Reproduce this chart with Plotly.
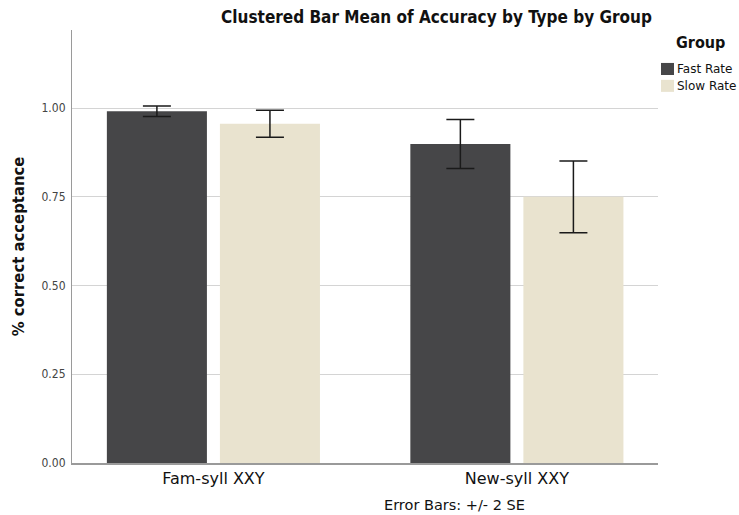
import plotly.graph_objects as go

# Mean accuracy per item type, split by presentation rate
types = ["Fam-syll XXY", "New-syll XXY"]
groups = ["Fast Rate", "Slow Rate"]
fast_mean = [0.991, 0.899]
slow_mean = [0.956, 0.750]
fast_err = [0.015, 0.069]   # +/- 2 SE
slow_err = [0.038, 0.101]   # +/- 2 SE
y_ticks = [0.00, 0.25, 0.50, 0.75, 1.00]

DARK = "#464648"
BEIGE = "#e9e3cf"
BOLD_FONT = "DejaVu Sans Condensed, DejaVu Sans, sans-serif"
FONT = "DejaVu Sans, sans-serif"

fig = go.Figure()
for name, means, errs, color in [
    (groups[0], fast_mean, fast_err, DARK),
    (groups[1], slow_mean, slow_err, BEIGE),
]:
    fig.add_trace(go.Bar(
        name=name, x=types, y=means, marker=dict(color=color, line=dict(width=0)),
        error_y=dict(type="data", array=errs, visible=True, color="#1a1a1a",
                     thickness=1.5, width=14),
        showlegend=False,
    ))

# Legend drawn as swatches with labels at the right edge
fig.add_annotation(text="<b>Group</b>", xref="paper", yref="paper", x=1.0717, y=0.970,
                   xanchor="center", yanchor="middle", showarrow=False,
                   font=dict(family=BOLD_FONT, size=16, color="#111"))
for i, (name, color) in enumerate([(groups[0], DARK), (groups[1], BEIGE)]):
    yc = 0.910 - i * 0.039
    fig.add_shape(type="rect", xref="paper", yref="paper", x0=1.0051, x1=1.0273,
                  y0=yc - 0.0139, y1=yc + 0.0139, fillcolor=color, line=dict(width=0))
    fig.add_annotation(text=name, xref="paper", yref="paper", x=1.0290, y=yc,
                       xanchor="left", yanchor="middle", showarrow=False,
                       font=dict(family=FONT, size=12, color="#111"))

fig.add_annotation(text="Error Bars: +/- 2 SE", xref="paper", yref="paper",
                   x=0.653, y=-0.097, xanchor="center", yanchor="middle", showarrow=False,
                   font=dict(family=FONT, size=14.5, color="#111"))

fig.update_layout(
    width=739, height=515,
    margin=dict(l=72, r=81, t=30, b=52),
    paper_bgcolor="white", plot_bgcolor="white",
    barmode="group", bargap=0.255, bargroupgap=0.115,
    title=dict(text="<b>Clustered Bar Mean of Accuracy by Type by Group</b>",
               x=0.5907, xanchor="center", y=0.967, yanchor="middle",
               font=dict(family=BOLD_FONT, size=17, color="#111")),
    font=dict(family=FONT, color="#111"),
    xaxis=dict(range=[-0.466, 1.465], showgrid=False, zeroline=False,
               showline=True, linecolor="#9a9a9a", linewidth=1.5, ticks="",
               ticklabelstandoff=0,
               tickfont=dict(family=FONT, size=16, color="#111")),
    yaxis=dict(range=[0, 1.22], tickvals=y_ticks, ticktext=[f"{v:.2f}" for v in y_ticks],
               showgrid=True, gridcolor="#d4d4d4", gridwidth=1.2, zeroline=False,
               showline=True, linecolor="#9a9a9a", linewidth=1.2, ticks="",
               tickfont=dict(family=BOLD_FONT, size=12, color="#444"), ticklabelstandoff=3,
               title=dict(text="<b>% correct acceptance</b>", standoff=12,
                          font=dict(family=BOLD_FONT, size=16.5, color="#111"))),
)

fig.write_html("out.html")
